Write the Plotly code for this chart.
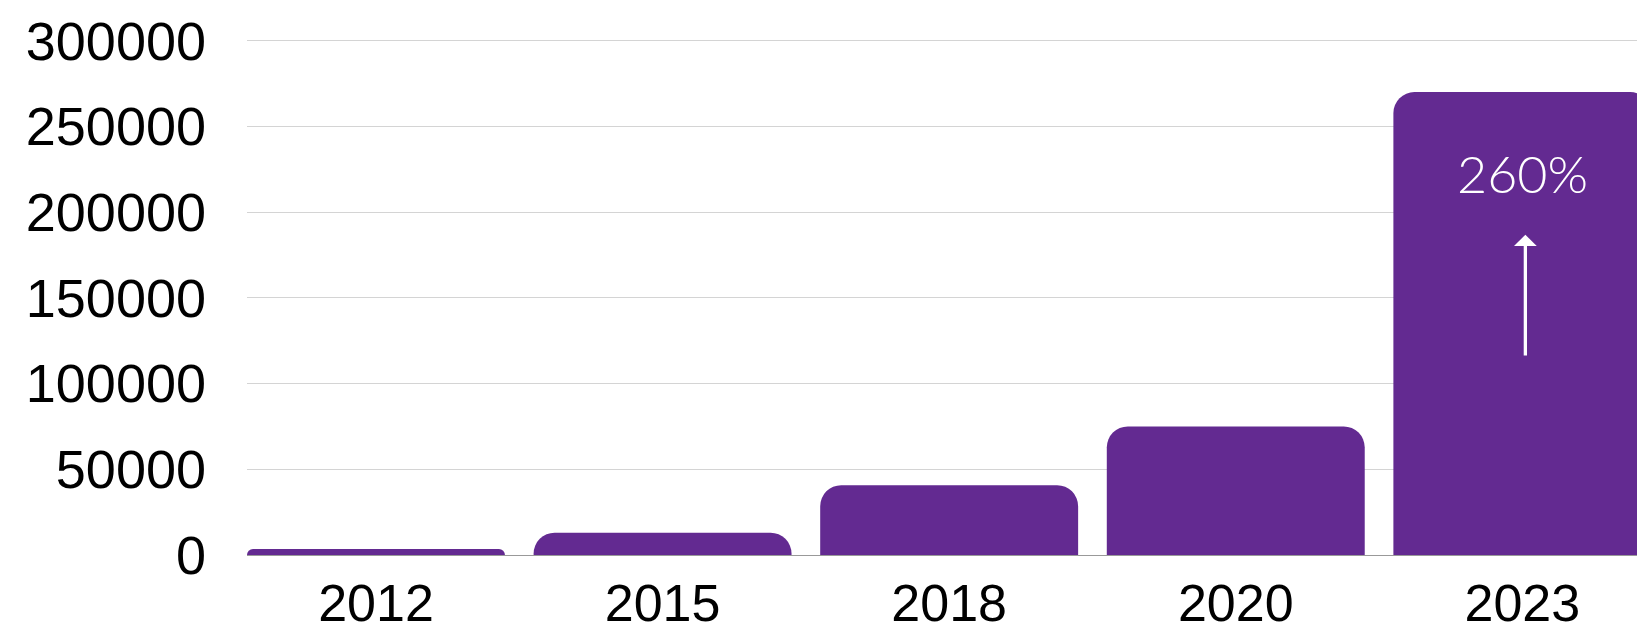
import plotly.graph_objects as go

years = ["2012", "2015", "2018", "2020", "2023"]
values = [3500, 13000, 40700, 75000, 270000]
growth_label = "260%"
y_ticks = [0, 50000, 100000, 150000, 200000, 250000, 300000]

bar_color = "#632A91"

fig = go.Figure()
fig.add_trace(go.Bar(
    x=years, y=values,
    marker=dict(color=bar_color, cornerradius=21, line=dict(width=0)),
    hoverinfo="skip",
))

top = values[-1]
last = len(years) - 1
fig.add_annotation(
    x=last, y=top * 0.826, xref="x", yref="y", text=growth_label, showarrow=False,
    font=dict(family="Lato Light, Lato", size=52, color="white", weight=300),
    xanchor="center", yanchor="middle",
)
fig.add_annotation(
    x=last, y=top * 0.692, xref="x", yref="y",
    ax=0, ay=top * 0.428, axref="pixel", ayref="y",
    text="", showarrow=True, arrowhead=1, arrowsize=1.15, arrowwidth=3.3,
    arrowcolor="white", xshift=3,
)

fig.update_layout(
    width=1637, height=627,
    margin=dict(l=247, r=0, t=37, b=72, autoexpand=False),
    paper_bgcolor="white", plot_bgcolor="white",
    bargap=0.1, showlegend=False,
    font=dict(family="Liberation Sans, Arial, sans-serif", size=54, color="black"),
)
fig.update_xaxes(
    type="category", range=[-0.45, 4.40], automargin=False,
    showgrid=False, showline=True, linecolor="#999999", linewidth=1,
    ticks="", ticklabelstandoff=3, tickfont=dict(size=52),
)
fig.update_yaxes(
    range=[0, 302150], tickvals=y_ticks, tickformat="d", automargin=False,
    showgrid=True, gridcolor="#d4d4d4", gridwidth=1, zeroline=False,
    ticks="", ticklabelstandoff=40, tickfont=dict(size=54),
)

fig.write_html(
    "out.html",
    config={"displayModeBar": False},
    post_script="document.body.style.margin='0';document.body.style.overflow='hidden';",
)
